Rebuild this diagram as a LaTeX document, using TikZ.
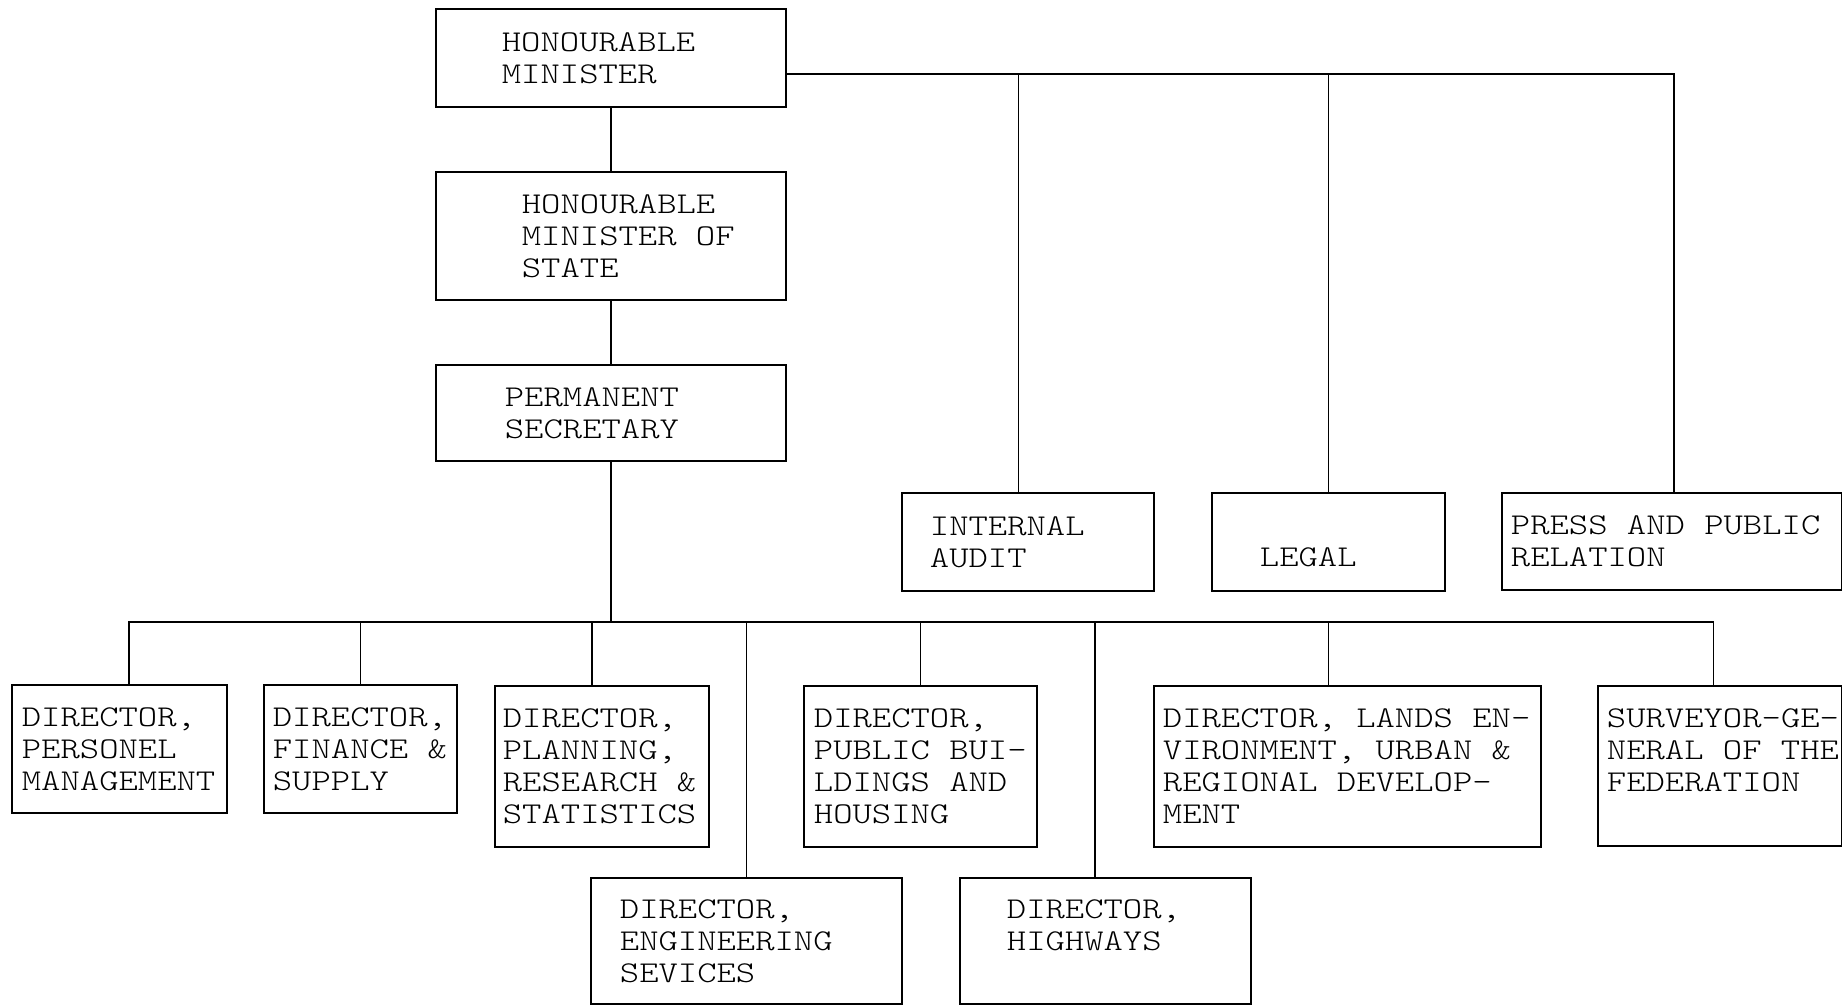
\documentclass[tikz,border=0pt]{standalone}
\usepackage{fontspec}
\newfontfamily\orgfont{lmmonolt10-regular.otf}[FakeStretch=1.22]

% box text: width, left inset, lines
\newcommand{\orgtext}[3]{\makebox[#1][l]{\hspace*{#2}\parbox{12cm}{\raggedright #3}}}

\tikzset{
  unit/.style={draw, line width=0.9pt, inner sep=0pt, anchor=north west,
    font=\orgfont\fontsize{15.1}{16}\selectfont},
  link/.style={line width=0.9pt},
}

\begin{document}
\begin{tikzpicture}[x=1pt,y=-1pt]
    \fill[white] (0,0) rectangle (921,502.5);
    \useasboundingbox (0,0) rectangle (921,502.5);

    % top of the ministry
    \node[unit, minimum width=175pt, minimum height=49pt] (hm) at (217.5,4)
      {\orgtext{175pt}{33pt}{HONOURABLE\\MINISTER}};
    \node[unit, minimum width=175pt, minimum height=64pt] (hms) at (217.5,85.5)
      {\orgtext{175pt}{43pt}{HONOURABLE\\MINISTER OF\\STATE}};
    \node[unit, minimum width=175pt, minimum height=48pt] (ps) at (217.5,182)
      {\orgtext{175pt}{34.5pt}{PERMANENT\\SECRETARY}};

    % units under the minister
    \node[unit, minimum width=126pt, minimum height=49pt] (ia) at (450.5,246)
      {\orgtext{126pt}{14pt}{INTERNAL\\AUDIT}};
    \node[unit, minimum width=116.5pt, minimum height=49pt] (legal) at (605.5,246)
      {\orgtext{116.5pt}{24pt}{\phantom{L}\\LEGAL}};
    \node[unit, minimum width=170pt, minimum height=48.5pt] (press) at (750.5,246)
      {\orgtext{170pt}{4.5pt}{PRESS AND PUBLIC\\RELATION}};

    % directorates
    \node[unit, minimum width=107.5pt, minimum height=64pt] (dpm) at (5.5,342)
      {\orgtext{107.5pt}{5pt}{DIRECTOR,\\PERSONEL\\MANAGEMENT}};
    \node[unit, minimum width=96.5pt, minimum height=64pt] (dfs) at (131.5,342)
      {\orgtext{96.5pt}{4.5pt}{DIRECTOR,\\FINANCE \&\\SUPPLY}};
    \node[unit, minimum width=107pt, minimum height=80.5pt] (dprs) at (247,342.5)
      {\orgtext{107pt}{4pt}{DIRECTOR,\\PLANNING,\\RESEARCH \&\\STATISTICS}};
    \node[unit, minimum width=116.5pt, minimum height=80.5pt] (dpbh) at (401.5,342.5)
      {\orgtext{116.5pt}{5pt}{DIRECTOR,\\PUBLIC BUI-\\LDINGS AND\\HOUSING}};
    \node[unit, minimum width=193.5pt, minimum height=80.5pt] (dlands) at (576.5,342.5)
      {\orgtext{193.5pt}{4.5pt}{DIRECTOR, LANDS EN-\\VIRONMENT, URBAN \&\\REGIONAL DEVELOP-\\MENT}};
    \node[unit, minimum width=122pt, minimum height=80pt] (sgf) at (798.5,342.5)
      {\orgtext{122pt}{4.5pt}{SURVEYOR-GE-\\NERAL OF THE\\FEDERATION\\\mbox{}}};
    \node[unit, minimum width=155.5pt, minimum height=63pt] (des) at (295,438.5)
      {\orgtext{155.5pt}{14.5pt}{DIRECTOR,\\ENGINEERING\\SEVICES}};
    \node[unit, minimum width=145.5pt, minimum height=63pt] (dhw) at (479.5,438.5)
      {\orgtext{145.5pt}{23.5pt}{DIRECTOR,\\HIGHWAYS\\\mbox{}}};

    % chain of command
    \draw[link] (hm) -- (hms);
    \draw[link] (hms) -- (ps);

    \coordinate (topbus) at ([yshift=-7.9pt]hm.east);
    \draw[link] (topbus) -| ([xshift=1pt]press.north);
    \draw[link] ([xshift=-4.75pt]ia.north) -- ([xshift=-4.75pt]ia.north |- topbus);
    \draw[link] (legal) -- (legal |- topbus);

    \coordinate (bus) at ([yshift=-80pt]ps.south);
    \draw[link] (ps) -- (bus);
    \draw[link] ([xshift=4.75pt]dpm.north) |- (bus) -| ([xshift=-3.25pt]sgf.north);
    \foreach \d in {dfs,des,dpbh}
      \draw[link] (\d) -- (\d |- bus);
    \foreach \d/\s in {dprs/-5pt,dhw/-5.25pt,dlands/-9.5pt}
      \draw[link] ([xshift=\s]\d.north) -- ([xshift=\s]\d.north |- bus);
\end{tikzpicture}
\end{document}
